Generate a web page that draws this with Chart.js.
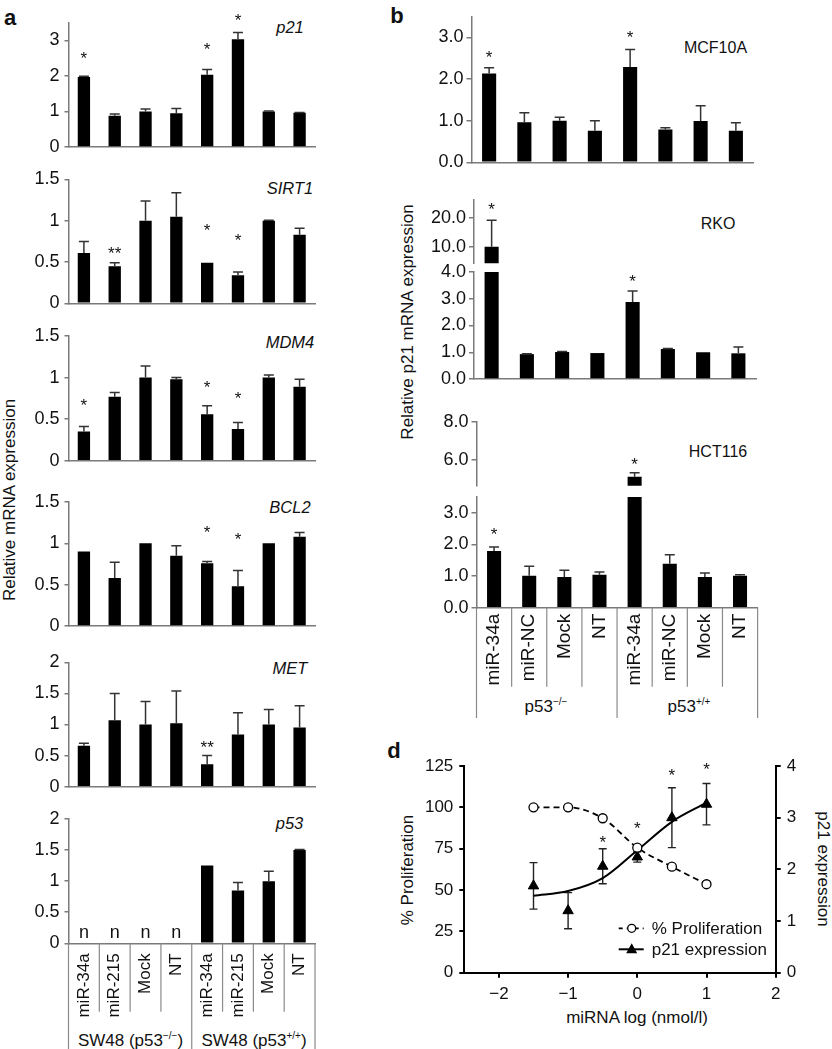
<!DOCTYPE html>
<html>
<head>
<meta charset="utf-8">
<script src="https://cdn.jsdelivr.net/npm/chart.js@4.4.1/dist/chart.umd.min.js"></script>
<style>
html,body{margin:0;padding:0;background:#fff;}
#fig{position:relative;width:832px;height:1049px;overflow:hidden;font-family:"Liberation Sans",Arial,Helvetica,sans-serif;color:#111;}
canvas{position:absolute;}
.t{position:absolute;white-space:nowrap;line-height:1;font-size:17px;transform:translate(-50%,-50%);}
.rl{transform:translate(-50%,-50%) rotate(-90deg);}
.rr{transform:translate(-50%,-50%) rotate(90deg);}
.gene{font-style:italic;font-size:16.5px;}
.lt{font-weight:bold;font-size:22px;}
sup{font-size:10px;vertical-align:7px;line-height:0;}
</style>
</head>
<body>
<div id="fig">
  <div class="t lt" style="left:10px;top:17.5px">a</div>
  <div class="t lt" style="left:397px;top:16px">b</div>
  <div class="t lt" style="left:394px;top:751px">d</div>

  <div class="t rl" style="left:8.5px;top:500px">Relative mRNA expression</div>
  <div class="t rl" style="left:407px;top:322px">Relative p21 mRNA expression</div>
  <div class="t rl" style="left:406.5px;top:870px">% Proliferation</div>
  <div class="t rr" style="left:822.5px;top:869px">p21 expression</div>
  <div class="t" style="left:637px;top:1017px">miRNA log (nmol/l)</div>

  <div class="t gene" style="left:290px;top:27px">p21</div>
  <div class="t gene" style="left:290px;top:187.7px">SIRT1</div>
  <div class="t gene" style="left:290px;top:341.7px">MDM4</div>
  <div class="t gene" style="left:290px;top:507px">BCL2</div>
  <div class="t gene" style="left:290px;top:668px">MET</div>
  <div class="t gene" style="left:289.5px;top:822.5px">p53</div>

  <div class="t" style="left:715.5px;top:47.5px;font-size:16px">MCF10A</div>
  <div class="t" style="left:718px;top:224px;font-size:16px">RKO</div>
  <div class="t" style="left:718px;top:451.7px;font-size:16px">HCT116</div>

  <div class="t" style="left:130.5px;top:1040px">SW48 (p53<sup>&minus;/&minus;</sup>)</div>
  <div class="t" style="left:254px;top:1040px">SW48 (p53<sup>+/+</sup>)</div>
  <div class="t" style="left:546px;top:706px">p53<sup>&minus;/&minus;</sup></div>
  <div class="t" style="left:689px;top:706px">p53<sup>+/+</sup></div>
</div>
<script>
// ---- panel a: SW48 qPCR ----
const catA = ['miR-34a','miR-215','Mock','NT','miR-34a','miR-215','Mock','NT'];
const p21Val = [1.97, 0.88, 1.00, 0.95, 2.03, 3.03, 1.00, 0.96];
const p21Err = [0.02, 0.05, 0.07, 0.13, 0.15, 0.19, 0.01, 0.01];
const p21Star = ['*','','','','*','*','',''];
const p21StarAt = [2.61, null, null, null, 2.86, 3.68, null, null];
const sirt1Val = [0.61, 0.45, 1.00, 1.05, 0.49, 0.34, 1.00, 0.83];
const sirt1Err = [0.14, 0.04, 0.24, 0.29, 0, 0.04, 0.005, 0.08];
const sirt1Star = ['','**','','','*','*','',''];
const sirt1StarAt = [null, 0.65, null, null, 0.93, 0.81, null, null];
const mdm4Val = [0.35, 0.77, 1.00, 0.98, 0.56, 0.38, 1.00, 0.89];
const mdm4Err = [0.06, 0.05, 0.14, 0.02, 0.10, 0.08, 0.03, 0.09];
const mdm4Star = ['*','','','','*','*','',''];
const mdm4StarAt = [0.71, null, null, null, 0.93, 0.80, null, null];
const bcl2Val = [0.90, 0.58, 1.00, 0.85, 0.76, 0.48, 1.00, 1.08];
const bcl2Err = [0, 0.19, 0, 0.12, 0.02, 0.19, 0, 0.05];
const bcl2Star = ['','','','','*','*','',''];
const bcl2StarAt = [null, null, null, null, 1.18, 1.10, null, null];
const metVal = [0.66, 1.07, 1.00, 1.02, 0.36, 0.84, 1.00, 0.95];
const metErr = [0.04, 0.43, 0.37, 0.52, 0.14, 0.35, 0.24, 0.35];
const metStar = ['','','','','**','','',''];
const metStarAt = [null, null, null, null, 0.69, null, null, null];
const p53Val = [0, 0, 0, 0, 1.25, 0.85, 1.00, 1.50];
const p53Err = [0, 0, 0, 0, 0, 0.13, 0.16, 0.01];
const p53Star = ['n','n','n','n','','','',''];
const p53StarAt = [0.08, 0.08, 0.08, 0.08, null, null, null, null];
const ticksP21 = [0, 1, 2, 3];
const ticksTo15 = [0, 0.5, 1, 1.5];
const ticksTo2 = [0, 0.5, 1, 1.5, 2];

// ---- panel b: p21 in three lines ----
const catB = ['miR-34a','miR-NC','Mock','NT','miR-34a','miR-NC','Mock','NT'];
const mcfVal = [2.13, 0.96, 1.00, 0.76, 2.29, 0.79, 0.99, 0.76];
const mcfErr = [0.14, 0.23, 0.08, 0.24, 0.42, 0.04, 0.37, 0.19];
const mcfStar = ['*','','','','*','','',''];
const mcfStarAt = [2.6, null, null, null, 3.08, null, null, null];
const rkoVal = [10.0, 0.93, 1.01, 0.97, 2.88, 1.12, 1.00, 0.96];
const rkoErr = [9.1, 0.01, 0.02, 0, 0.41, 0.02, 0, 0.24];
const rkoStar = ['*','','','','*','','',''];
const rkoStarAt = [24.3, null, null, null, 3.8, null, null, null];
const hctVal = [1.79, 1.01, 0.97, 1.04, 5.13, 1.39, 0.97, 1.01];
const hctErr = [0.13, 0.30, 0.21, 0.09, 0.21, 0.28, 0.13, 0.03];
const hctStar = ['*','','','','*','','',''];
const hctStarAt = [2.45, null, null, null, 6.0, null, null, null];
const ticksMcf = [0, 1, 2, 3];
const ticksRkoHi = [10, 20];
const ticksRkoLo = [0, 1, 2, 3, 4];
const ticksHctHi = [6, 8];
const ticksHctLo = [0, 1, 2, 3];

// ---- panel d: dose response ----
const doseLog = [-1.5, -1, -0.5, 0, 0.5, 1];
const prolifPct = [100, 100, 93.4, 75.6, 64.1, 53.5];
const p21Expr = [1.68, 1.20, 2.06, 2.24, 3.00, 3.26];
const p21ExprErr = [0.45, 0.35, 0.34, 0.10, 0.58, 0.40];
const p21Fit = [1.49, 1.58, 1.83, 2.37, 2.92, 3.29];
const doseStar = ['','','*','*','*','*'];
const doseStarAt = [null, null, 81.3, 89.4, 121.6, 125.6];
const ticksDose = [-2, -1, 0, 1, 2];
const ticksProlif = [0, 25, 50, 75, 100, 125];
const ticksExpr = [0, 1, 2, 3, 4];

const axisGrey = '#7a7a7a';
const FONT = '"Liberation Sans", Arial, Helvetica, sans-serif';
Chart.defaults.font.family = FONT;
Chart.defaults.color = '#111';
const fig = document.getElementById('fig');

function mkCanvas(b){
  const c = document.createElement('canvas');
  c.width = b.r - b.l; c.height = b.b - b.t;
  c.style.left = b.l + 'px'; c.style.top = b.t + 'px';
  c.style.width = c.width + 'px'; c.style.height = c.height + 'px';
  fig.appendChild(c);
  return c;
}

// error bars (upward) + significance marks above bars
const barMarks = {
  id: 'barMarks',
  afterDatasetsDraw(chart, args, o){
    const ctx = chart.ctx, y = chart.scales.y, meta = chart.getDatasetMeta(0);
    const vals = chart.data.datasets[0].data;
    ctx.save();
    vals.forEach((v, i) => {
      if (v == null || v < y.min || v > y.max) return;
      const bar = meta.data[i];
      const e = o.err[i];
      if (e > 0) {
        const top = y.getPixelForValue(v + e);
        ctx.strokeStyle = '#333'; ctx.lineWidth = 1.5;
        ctx.beginPath();
        ctx.moveTo(bar.x, bar.y); ctx.lineTo(bar.x, top);
        ctx.moveTo(bar.x - 5, top); ctx.lineTo(bar.x + 5, top);
        ctx.stroke();
      }
      const s = o.stars[i];
      if (s) {
        const py = y.getPixelForValue(o.starAt[i]);
        ctx.fillStyle = '#111'; ctx.textAlign = 'center'; ctx.textBaseline = 'alphabetic';
        ctx.font = (s === 'n' ? '18px ' : '17px ') + FONT;
        ctx.fillText(s, bar.x, s === 'n' ? py : py + 9.5);
      }
    });
    ctx.restore();
  }
};

// category dividers under the x axis
const tablePlugin = {
  id: 'table',
  afterDraw(chart, args, o){
    const x = chart.scales.x, a = chart.chartArea, ctx = chart.ctx;
    const n = chart.data.labels.length;
    ctx.save();
    ctx.strokeStyle = '#8a8a8a'; ctx.lineWidth = 1.2;
    for (let i = 0; i <= n; i++) {
      const px = i === 0 ? a.left : i === n ? a.right : (x.getPixelForTick(i - 1) + x.getPixelForTick(i)) / 2;
      const len = i % o.group === 0 ? o.outer : o.inner;
      ctx.beginPath(); ctx.moveTo(px, a.bottom); ctx.lineTo(px, a.bottom + len); ctx.stroke();
    }
    ctx.restore();
  }
};

function barPanel(box, area, cats, vals, err, stars, starAt, sc){
  const cv = mkCanvas(box);
  return new Chart(cv, {
    type: 'bar',
    data: { labels: cats, datasets: [{ data: vals, backgroundColor: '#000', borderWidth: 0,
      barPercentage: 0.4, categoryPercentage: 1, clip: 0 }] },
    options: {
      responsive: false, animation: false, events: [], devicePixelRatio: 1,
      layout: { autoPadding: false, padding: { top: area.t - box.t, right: box.r - area.r, left: 0, bottom: 0 } },
      plugins: {
        legend: { display: false }, tooltip: { enabled: false },
        barMarks: { err: err, stars: stars, starAt: starAt },
        table: sc.table || false
      },
      scales: {
        x: {
          grid: { display: false, drawTicks: false },
          border: { display: sc.xLine !== false, color: axisGrey, width: 1.5 },
          ticks: { display: !!sc.table, autoSkip: false, minRotation: 90, maxRotation: 90,
            padding: sc.table ? sc.table.pad : 0, font: { size: sc.table ? sc.table.size : 17 } },
          afterFit: s => { s.height = box.b - area.b; s.paddingLeft = 0; s.paddingRight = 0; }
        },
        y: {
          min: sc.min, max: sc.max,
          ticks: { padding: sc.tickPad, font: { size: 18 }, callback: sc.fmt },
          afterBuildTicks: s => { s.ticks = sc.ticks.map(v => ({ value: v })); },
          grid: { drawOnChartArea: false, tickLength: sc.tickLen, color: axisGrey, lineWidth: 1.5 },
          border: { color: axisGrey, width: 1.5 },
          afterFit: s => { s.width = area.l - box.l; s.paddingTop = 0; s.paddingBottom = 0; }
        }
      }
    },
    plugins: [barMarks, tablePlugin]
  });
}

const fmtA = v => String(v);
const fmtB = v => v.toFixed(1);
const scA = (max, ticks, extra) => Object.assign({ min: 0, max: max, ticks: ticks, fmt: fmtA, tickLen: 4, tickPad: 5 }, extra || {});
const scB = (min, max, ticks, extra) => Object.assign({ min: min, max: max, ticks: ticks, fmt: fmtB, tickLen: 5, tickPad: 3 }, extra || {});

// panel a
barPanel({l:0,t:0,r:330,b:160},   {l:68.5,t:22.5,r:315,b:147},   catA, p21Val, p21Err, p21Star, p21StarAt, scA(3.5, ticksP21));
barPanel({l:0,t:160,r:330,b:316}, {l:68.5,t:179.5,r:315,b:303.3}, catA, sirt1Val, sirt1Err, sirt1Star, sirt1StarAt, scA(1.5, ticksTo15));
barPanel({l:0,t:316,r:330,b:472}, {l:68.5,t:336,r:315,b:460.7},   catA, mdm4Val, mdm4Err, mdm4Star, mdm4StarAt, scA(1.5, ticksTo15));
barPanel({l:0,t:472,r:330,b:640}, {l:68.5,t:502,r:315,b:626},     catA, bcl2Val, bcl2Err, bcl2Star, bcl2StarAt, scA(1.5, ticksTo15));
barPanel({l:0,t:640,r:330,b:800}, {l:68.5,t:662.3,r:315,b:786.7}, catA, metVal, metErr, metStar, metStarAt, scA(2, ticksTo2));
barPanel({l:0,t:800,r:330,b:1049},{l:68.5,t:819,r:315,b:943.3},   catA, p53Val, p53Err, p53Star, p53StarAt,
  scA(2, ticksTo2, { table: { inner: 68.4, outer: 106, group: 4, pad: 10, size: 17 } }));

// panel b
barPanel({l:410,t:0,r:770,b:175},   {l:471.5,t:16.5,r:753.5,b:162.3}, catB, mcfVal, mcfErr, mcfStar, mcfStarAt, scB(0, 3.5, ticksMcf));
barPanel({l:410,t:185,r:770,b:264}, {l:474,t:200.1,r:756,b:263.3},    catB, rkoVal, rkoErr, rkoStar, rkoStarAt, scB(4.3, 26, ticksRkoHi, { xLine: false }));
barPanel({l:410,t:262,r:770,b:390}, {l:474,t:272,r:756,b:379},        catB, rkoVal, rkoErr, rkoStar, rkoStarAt, scB(0, 4, ticksRkoLo));
barPanel({l:410,t:405,r:770,b:487}, {l:476.5,t:421.7,r:757.6,b:485.7}, catB, hctVal, hctErr, hctStar, hctStarAt, scB(4.66, 8, ticksHctHi, { xLine: false }));
barPanel({l:410,t:486,r:770,b:720}, {l:476.5,t:496.9,r:757.6,b:607.7}, catB, hctVal, hctErr, hctStar, hctStarAt,
  scB(0, 3.5, ticksHctLo, { table: { inner: 79, outer: 110.3, group: 4, pad: 6, size: 19 } }));

// panel d
const doseMarks = {
  id: 'doseMarks',
  beforeDatasetsDraw(chart){
    const ctx = chart.ctx, xs = chart.scales.x, yr = chart.scales.y2;
    ctx.save(); ctx.strokeStyle = '#222'; ctx.lineWidth = 1.4;
    doseLog.forEach((d, i) => {
      const px = xs.getPixelForValue(d);
      const hi = yr.getPixelForValue(p21Expr[i] + p21ExprErr[i]);
      const lo = yr.getPixelForValue(p21Expr[i] - p21ExprErr[i]);
      ctx.beginPath();
      ctx.moveTo(px, hi); ctx.lineTo(px, lo);
      ctx.moveTo(px - 4, hi); ctx.lineTo(px + 4, hi);
      ctx.moveTo(px - 4, lo); ctx.lineTo(px + 4, lo);
      ctx.stroke();
    });
    ctx.restore();
  },
  afterDraw(chart){
    const ctx = chart.ctx, xs = chart.scales.x, yl = chart.scales.y, a = chart.chartArea;
    ctx.save();
    ctx.fillStyle = '#111'; ctx.textAlign = 'center'; ctx.textBaseline = 'alphabetic';
    ctx.font = '17px ' + FONT;
    doseStar.forEach((s, i) => {
      if (!s) return;
      ctx.fillText(s, xs.getPixelForValue(doseLog[i]), yl.getPixelForValue(doseStarAt[i]) + 9.5);
    });
    // legend
    const tx = a.right - 124, r1 = a.bottom - 44.4, r2 = a.bottom - 23.4;
    ctx.font = '17px ' + FONT; ctx.textAlign = 'left'; ctx.textBaseline = 'middle';
    ctx.fillText(chart.data.datasets[0].label, tx, r1 + 1);
    ctx.fillText(chart.data.datasets[1].label, tx, r2 + 1);
    ctx.strokeStyle = '#000'; ctx.lineWidth = 1.8;
    ctx.setLineDash([4, 4]);
    ctx.beginPath(); ctx.moveTo(tx - 33, r1); ctx.lineTo(tx - 8, r1); ctx.stroke();
    ctx.setLineDash([]);
    ctx.beginPath(); ctx.arc(tx - 20, r1, 4, 0, Math.PI * 2);
    ctx.fillStyle = '#fff'; ctx.fill(); ctx.lineWidth = 1.3; ctx.stroke();
    ctx.lineWidth = 2;
    ctx.beginPath(); ctx.moveTo(tx - 33, r2); ctx.lineTo(tx - 8, r2); ctx.stroke();
    ctx.fillStyle = '#000';
    ctx.beginPath(); ctx.moveTo(tx - 20, r2 - 6); ctx.lineTo(tx - 14.5, r2 + 4); ctx.lineTo(tx - 25.5, r2 + 4); ctx.closePath(); ctx.fill();
    ctx.restore();
  }
};

(function(){
  const box = {l:410,t:745,r:805,b:1005}, area = {l:464.3,t:766,r:775.7,b:972.7};
  const cv = mkCanvas(box);
  const axis = (extra) => Object.assign({
    grid: { drawOnChartArea: false, tickLength: 5, color: '#000', lineWidth: 2 },
    border: { color: '#000', width: 2 }
  }, extra);
  new Chart(cv, {
    type: 'line',
    data: { datasets: [
      { label: '% Proliferation', data: doseLog.map((x, i) => ({ x: x, y: prolifPct[i] })), yAxisID: 'y',
        borderColor: '#000', borderWidth: 1.8, borderDash: [6, 4], cubicInterpolationMode: 'monotone',
        pointStyle: 'circle', pointRadius: 4.5, pointBackgroundColor: '#fff', pointBorderColor: '#000', pointBorderWidth: 1.3 },
      { label: 'p21 expression', data: doseLog.map((x, i) => ({ x: x, y: p21Expr[i] })), yAxisID: 'y2', showLine: false,
        pointStyle: 'triangle', pointRadius: 6, pointBackgroundColor: '#000', pointBorderColor: '#000', pointBorderWidth: 1 },
      { label: 'p21 fit', data: doseLog.map((x, i) => ({ x: x, y: p21Fit[i] })), yAxisID: 'y2',
        borderColor: '#000', borderWidth: 2, pointRadius: 0, cubicInterpolationMode: 'monotone' }
    ] },
    options: {
      responsive: false, animation: false, events: [], devicePixelRatio: 1,
      layout: { autoPadding: false, padding: { top: area.t - box.t, right: 0, left: 0, bottom: 0 } },
      plugins: { legend: { display: false }, tooltip: { enabled: false } },
      scales: {
        x: axis({ type: 'linear', min: -2.5, max: 2,
          ticks: { font: { size: 17 }, padding: 6, callback: v => v < 0 ? '\u2212' + (-v) : String(v) },
          afterBuildTicks: s => { s.ticks = ticksDose.map(v => ({ value: v })); },
          afterFit: s => { s.height = box.b - area.b; s.paddingLeft = 0; s.paddingRight = 0; } }),
        y: axis({ position: 'left', min: 0, max: 125,
          ticks: { font: { size: 17 }, padding: 6 },
          afterBuildTicks: s => { s.ticks = ticksProlif.map(v => ({ value: v })); },
          afterFit: s => { s.width = area.l - box.l; s.paddingTop = 0; s.paddingBottom = 0; } }),
        y2: axis({ position: 'right', min: 0, max: 4,
          ticks: { font: { size: 17 }, padding: 6 },
          afterBuildTicks: s => { s.ticks = ticksExpr.map(v => ({ value: v })); },
          afterFit: s => { s.width = box.r - area.r; s.paddingTop = 0; s.paddingBottom = 0; } })
      }
    },
    plugins: [doseMarks]
  });
})();
</script>
</body>
</html>
